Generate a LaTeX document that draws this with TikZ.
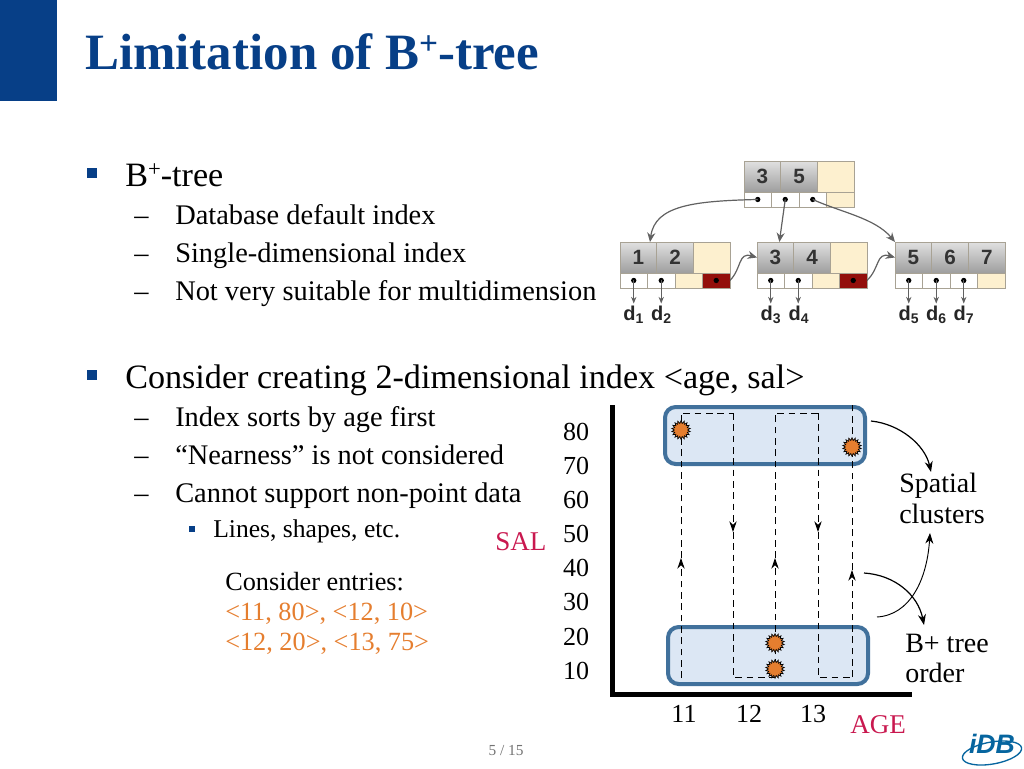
\documentclass[tikz,border=0pt]{standalone}
\usepackage{fontspec}
\setmainfont{Liberation Serif}
\setsansfont{Liberation Sans}
\usetikzlibrary{shapes,positioning,fit,arrows.meta}
\definecolor{navy}{HTML}{073F87}
\definecolor{crimson}{HTML}{C9184F}
\definecolor{entryorange}{HTML}{E57E2F}
\definecolor{clusterfill}{HTML}{DCE7F4}
\definecolor{clusterline}{HTML}{41719C}
\definecolor{cellcream}{HTML}{FDF0CF}
\definecolor{celledge}{HTML}{A8A294}
\definecolor{nextred}{HTML}{930F0B}
\newcommand{\fsz}[1]{\fontsize{#1}{#1}\selectfont}
\newcommand{\plusup}[1]{\raisebox{.28em}{\fsz{#1}+}}
\tikzset{
  head/.style={anchor=base west, inner sep=0, text=navy, font=\fsz{38.2}\bfseries},
  lone/.style={anchor=base west, inner sep=0, font=\fsz{25.6}},
  ltwo/.style={anchor=base west, inner sep=0, font=\fsz{21.3}},
  lthree/.style={anchor=base west, inner sep=0, font=\fsz{19.2}},
  mark one/.style={fill=navy, inner sep=0, minimum size=7pt},
  mark three/.style={fill=navy, inner sep=0, minimum size=5pt},
  tick/.style={anchor=base, inner sep=0, font=\fsz{19.5}},
  plotlabel/.style={anchor=base west, inner sep=0, font=\fsz{21}},
  entry/.style={lthree, font=\fsz{19.7}, text=entryorange},
  axislabel/.style={anchor=base west, inner sep=0, font=\fsz{20.3}, text=crimson},
  keycell/.style={draw=celledge, line width=.5pt, anchor=north west, inner sep=0, outer sep=0,
    minimum width=27.5pt, minimum height=23.2pt, top color=black!12, bottom color=black!38,
    font=\sffamily\bfseries\fsz{15.5}, text=black!80},
  keyfree/.style={keycell, top color=cellcream, bottom color=cellcream},
  ptrcell/.style={draw=celledge, line width=.5pt, anchor=north west, inner sep=0, outer sep=0,
    minimum width=20.6pt, minimum height=11.2pt, fill=white},
  ptrdot/.style={ptrcell, path picture={\fill[black] (path picture bounding box.center) circle (2pt);}},
  ptrfree/.style={ptrcell, fill=cellcream},
  ptrnext/.style={ptrdot, fill=nextred},
  treearrow/.style={draw=black!62, line width=.9pt, -{Stealth[length=7pt,width=6pt]}},
  dataarrow/.style={draw=black!62, line width=.7pt, -{Stealth[length=5pt,width=4pt]}},
  dlabel/.style={anchor=base, inner sep=0, outer sep=1.5pt, font=\sffamily\bfseries\fsz{15}, text=black!85},
  cluster/.style={draw=clusterline, line width=3pt, fill=clusterfill, rounded corners=8pt, inner sep=0},
  scan/.style={line width=.7pt, dash pattern=on 5pt off 3.5pt},
  scantip/.style={scan, -{Stealth[length=8pt,width=5.5pt]}},
  datum/.style={star, star points=18, star point ratio=1.4, minimum size=14pt, inner sep=0,
    draw=black, line width=.5pt, fill=entryorange},
  callout/.style={line width=.9pt, -{Stealth[length=8pt,width=6pt]}},
  axisline/.style={line width=3.7pt}
}
\begin{document}
\begin{tikzpicture}[x=.75pt, y=-.75pt]
  \useasboundingbox (0,0) rectangle (1024,768);
  \fill[navy] (0,0) rectangle (57,101);
  \node[head] (title) at (85,69) {Limitation of B\plusup{25}-tree};
  \node[mark one] (m1) at (92,173) {};
  \node[lone] (t1) at (125,186) {B\plusup{17}-tree};
  \node[ltwo] (d11) at (134,224) {–};
  \node[ltwo] (t11) at (175,224) {Database default index};
  \node[ltwo] (d12) at (134,262) {–};
  \node[ltwo] (t12) at (175,262) {Single-dimensional index};
  \node[ltwo] (d13) at (134,300) {–};
  \node[ltwo] (t13) at (175,300) {Not very suitable for multidimension};
  \node[mark one] (m2) at (92,375) {};
  \node[lone] (t2) at (125,388) {Consider creating 2-dimensional index <age, sal>};
  \node[ltwo] (d21) at (134,426) {–};
  \node[ltwo] (t21) at (175,426) {Index sorts by age first};
  \node[ltwo] (d22) at (134,464) {–};
  \node[ltwo] (t22) at (175,464) {“Nearness” is not considered};
  \node[ltwo] (d23) at (134,502) {–};
  \node[ltwo] (t23) at (175,502) {Cannot support non-point data};
  \node[mark three] (m3) at (192,529) {};
  \node[lthree] (t231) at (213,537) {Lines, shapes, etc.};
  \node[lthree, font=\fsz{19.7}] (entries) at (225,590) {Consider entries:};
  \node[entry] (entry1) at (225,620) {<11, 80>, <12, 10>};
  \node[entry] (entry2) at (225,650) {<12, 20>, <13, 75>};
  \node[inner sep=0, text=black!55, font=\fsz{11.5}, anchor=base] (page) at (506,755) {5 / 15};

  \node[keycell] (rk1) at (744,161) {3};
  \node[keycell] (rk2) at (780.7,161) {5};
  \node[keyfree] (rk3) at (817.4,161) {};
  \node[ptrdot] (rp1) at (744,192) {};
  \node[ptrdot] (rp2) at (771.5,192) {};
  \node[ptrdot] (rp3) at (799,192) {};
  \node[ptrfree] (rp4) at (826.5,192) {};

  \node[keycell] (ak1) at (620,242) {1};
  \node[keycell] (ak2) at (656.7,242) {2};
  \node[keyfree] (ak3) at (693.4,242) {};
  \node[ptrdot] (ap1) at (620,273) {};
  \node[ptrdot] (ap2) at (647.5,273) {};
  \node[ptrfree] (ap3) at (675,273) {};
  \node[ptrnext] (ap4) at (702.5,273) {};

  \node[keycell] (bk1) at (757,242) {3};
  \node[keycell] (bk2) at (793.7,242) {4};
  \node[keyfree] (bk3) at (830.4,242) {};
  \node[ptrdot] (bp1) at (757,273) {};
  \node[ptrdot] (bp2) at (784.5,273) {};
  \node[ptrfree] (bp3) at (812,273) {};
  \node[ptrnext] (bp4) at (839.5,273) {};

  \node[keycell] (ck1) at (895,242) {5};
  \node[keycell] (ck2) at (931.7,242) {6};
  \node[keycell] (ck3) at (968.4,242) {7};
  \node[ptrdot] (cp1) at (895,273) {};
  \node[ptrdot] (cp2) at (922.5,273) {};
  \node[ptrdot] (cp3) at (950,273) {};
  \node[ptrfree] (cp4) at (977.5,273) {};

  \node[dlabel] (d1) at (633.7,320) {d\textsubscript{1}};
  \node[dlabel] (d2) at (661.5,320) {d\textsubscript{2}};
  \node[dlabel] (d3) at (771,320) {d\textsubscript{3}};
  \node[dlabel] (d4) at (799,320) {d\textsubscript{4}};
  \node[dlabel] (d5) at (909,320) {d\textsubscript{5}};
  \node[dlabel] (d6) at (936.5,320) {d\textsubscript{6}};
  \node[dlabel] (d7) at (964,320) {d\textsubscript{7}};

  \draw[treearrow] (rp1.center) .. controls (695,201) and (655,205) .. ([xshift=-5pt]ak1.north east);
  \draw[treearrow] (rp2.center) -- ([xshift=3pt]bk1.north);
  \draw[treearrow] (rp3.center) .. controls (840,212) and (875,218) .. (ck1.north west);
  \draw[treearrow] (ap4.east) .. controls (742,268) and (738,252) .. (bk1.west);
  \draw[treearrow] (bp4.east) .. controls (880,268) and (876,252) .. (ck1.west);
  \draw[dataarrow] (ap1.center) -- (ap1.center |- d1.north);
  \draw[dataarrow] (ap2.center) -- (ap2.center |- d2.north);
  \draw[dataarrow] (bp1.center) -- (bp1.center |- d3.north);
  \draw[dataarrow] (bp2.center) -- (bp2.center |- d4.north);
  \draw[dataarrow] (cp1.center) -- (cp1.center |- d5.north);
  \draw[dataarrow] (cp2.center) -- (cp2.center |- d6.north);
  \draw[dataarrow] (cp3.center) -- (cp3.center |- d7.north);

  \draw[cluster] (665,407) rectangle (865,464);
  \draw[cluster] (668,627) rectangle (868,684);
  \coordinate (origin) at (612.5,694.5);
  \coordinate (yend) at (612.5,405);
  \coordinate (xend) at (912,694.5);
  \draw[axisline, line join=miter] (yend) -- (origin) -- (xend);

  \coordinate (s0) at (681,678);
  \coordinate (s1) at (681,558);
  \coordinate (s2) at (681,413);
  \coordinate (s3) at (733,413);
  \coordinate (s4) at (733,532);
  \coordinate (s5) at (733,677);
  \coordinate (s6) at (775,677);
  \coordinate (s7) at (775,558);
  \coordinate (s8) at (775,413);
  \coordinate (s9) at (818,413);
  \coordinate (s10) at (818,532);
  \coordinate (s11) at (818,677);
  \coordinate (s12) at (852,677);
  \coordinate (s13) at (852,570);
  \coordinate (s14) at (852,405);
  \draw[scantip] (s0) -- (s1);
  \draw[scan] (s1) -- (s2) -- (s3);
  \draw[scantip] (s3) -- (s4);
  \draw[scan] (s4) -- (s5) -- (s6);
  \draw[scantip] (s6) -- (s7);
  \draw[scan] (s7) -- (s8) -- (s9);
  \draw[scantip] (s9) -- (s10);
  \draw[scan] (s10) -- (s11) -- (s12);
  \draw[scantip] (s12) -- (s13);
  \draw[scan] (s13) -- (s14);

  \node[datum] (p1) at (681,430) {};
  \node[datum] (p2) at (852,447) {};
  \node[datum] (p3) at (775,643) {};
  \node[datum] (p4) at (775,669) {};

  \node[tick] (y80) at (576,440) {80};
  \node[tick] (y70) at (576,474) {70};
  \node[tick] (y60) at (576,508) {60};
  \node[tick] (y50) at (576,542) {50};
  \node[tick] (y40) at (576,576) {40};
  \node[tick] (y30) at (576,610) {30};
  \node[tick] (y20) at (576,645) {20};
  \node[tick] (y10) at (576,679) {10};
  \node[tick] (x11) at (684,722) {11};
  \node[tick] (x12) at (749,722) {12};
  \node[tick] (x13) at (813,722) {13};
  \node[axislabel] (sal) at (495,550) {SAL};
  \node[axislabel] (age) at (850,733) {AGE};
  \node[plotlabel] (spatial) at (899,492) {Spatial};
  \node[plotlabel] (clusters) at (899,523) {clusters};
  \node[plotlabel] (btree) at (905,652) {B+ tree};
  \node[plotlabel] (order) at (905,682) {order};

  \coordinate (c1) at (871,421);
  \coordinate (c2) at (877,617);
  \coordinate (c3) at (864,573);
  \coordinate (c1end) at (931,472);
  \coordinate (c2end) at (930,533);
  \coordinate (c3end) at (924,625);
  \draw[callout] (c1) .. controls (900,424) and (925,445) .. (c1end);
  \draw[callout, line width=.7pt] (c2) .. controls (910,615) and (927,580) .. (c2end);
  \draw[callout] (c3) .. controls (895,575) and (918,595) .. (c3end);

  \draw[navy!80!cyan, line width=1pt, rotate around={10:(992,753)}] (992,753) ellipse (30 and 11);
  \node[inner sep=0, text=navy!80!cyan, font=\sffamily\bfseries\itshape\fsz{20}] (logo) at (992,744) {iDB};
\end{tikzpicture}
\end{document}
